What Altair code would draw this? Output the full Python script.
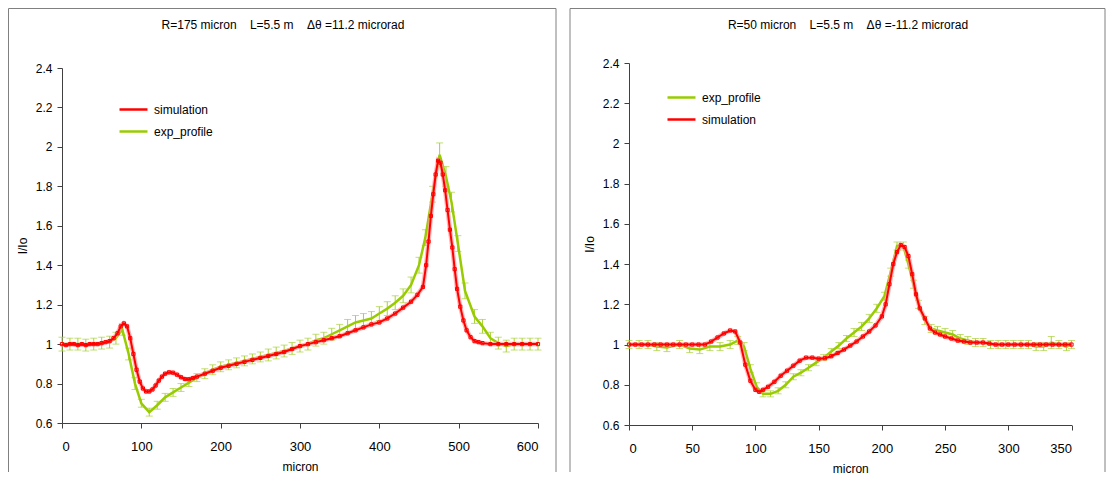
import altair as alt
import pandas as pd

# ---------------- data ----------------
Y_TICKS = [0.6, 0.8, 1.0, 1.2, 1.4, 1.6, 1.8, 2.0, 2.2, 2.4]

# Left panel: R=175 micron
L_TITLE = "R=175 micron\u00a0\u00a0\u00a0\u00a0L=5.5 m\u00a0\u00a0\u00a0\u00a0\u0394\u03b8 =11.2 microrad"
L_X_TICKS = [0, 100, 200, 300, 400, 500, 600]
L_EXP_X = [0, 10, 20, 30, 40, 50, 60, 68, 76, 84, 92, 100, 110, 120, 130, 140, 150, 160, 170, 180,
           190, 200, 210, 220, 230, 240, 250, 260, 270, 280, 290, 300, 310, 320, 330, 340, 350, 360,
           370, 380, 390, 400, 410, 420, 430, 440, 450, 458, 467, 476, 484, 491, 499, 508, 520, 530,
           540, 550, 560, 570, 580, 590, 600]
L_EXP_Y = [1.00, 1.00, 1.00, 0.995, 1.00, 1.005, 1.01, 1.03, 1.075, 0.95, 0.80, 0.70, 0.655, 0.69,
           0.73, 0.755, 0.78, 0.805, 0.83, 0.85, 0.87, 0.885, 0.895, 0.905, 0.915, 0.925, 0.935,
           0.945, 0.955, 0.965, 0.978, 0.99, 1.00, 1.02, 1.03, 1.05, 1.07, 1.09, 1.11, 1.12, 1.13,
           1.155, 1.18, 1.21, 1.245, 1.30, 1.40, 1.54, 1.76, 1.96, 1.85, 1.72, 1.51, 1.27, 1.14,
           1.09, 1.03, 1.005, 0.99, 1.00, 1.00, 1.00, 1.00]
L_EXP_ERR = [0.035, 0.03, 0.03, 0.03, 0.03, 0.03, 0.03, 0.03, 0.03, 0.03, 0.03, 0.02, 0.02, 0.02,
             0.02, 0.02, 0.02, 0.02, 0.02, 0.025, 0.025, 0.025, 0.025, 0.025, 0.025, 0.025, 0.025,
             0.03, 0.03, 0.03, 0.03, 0.03, 0.03, 0.03, 0.03, 0.03, 0.03, 0.035, 0.035, 0.035, 0.035,
             0.035, 0.035, 0.035, 0.035, 0.04, 0.04, 0.04, 0.04, 0.06, 0.05, 0.05, 0.04, 0.04,
             0.035, 0.035, 0.03, 0.03, 0.03, 0.03, 0.03, 0.03, 0.03]
L_SIM_X = [0, 5, 10, 15, 20, 25, 30, 35, 40, 45, 50, 55, 60, 65, 70, 74, 78, 82, 86, 90, 94, 98,
           102, 106, 110, 114, 118, 122, 126, 130, 135, 140, 145, 150, 155, 160, 165, 170, 180, 190,
           200, 210, 220, 230, 240, 250, 260, 270, 280, 290, 300, 310, 320, 330, 340, 350, 360, 370,
           380, 390, 400, 410, 420, 430, 440, 448, 455, 459, 462, 465, 468, 471, 474, 477, 480, 483,
           486, 489, 492, 495, 498, 502, 506, 510, 515, 520, 525, 530, 540, 550, 560, 570, 580, 590,
           600]
L_SIM_Y = [1.00, 0.995, 1.00, 1.00, 0.995, 1.00, 0.995, 1.00, 1.00, 1.00, 1.005, 1.01, 1.015, 1.03,
           1.055, 1.09, 1.105, 1.09, 1.03, 0.95, 0.87, 0.81, 0.775, 0.76, 0.76, 0.77, 0.79, 0.815,
           0.835, 0.85, 0.857, 0.855, 0.845, 0.832, 0.823, 0.822, 0.828, 0.835, 0.85, 0.865, 0.88,
           0.89, 0.90, 0.91, 0.92, 0.93, 0.94, 0.95, 0.96, 0.975, 0.99, 1.00, 1.01, 1.02, 1.03,
           1.04, 1.055, 1.07, 1.085, 1.10, 1.11, 1.13, 1.155, 1.185, 1.215, 1.25, 1.29, 1.40, 1.52,
           1.65, 1.76, 1.86, 1.93, 1.92, 1.86, 1.78, 1.68, 1.58, 1.49, 1.38, 1.28, 1.19, 1.12, 1.07,
           1.035, 1.015, 1.01, 1.005, 1.00, 1.00, 1.00, 1.00, 1.00, 1.00, 1.00]

# Right panel: R=50 micron
R_TITLE = "R=50 micron\u00a0\u00a0\u00a0\u00a0L=5.5 m\u00a0\u00a0\u00a0\u00a0\u0394\u03b8 =-11.2 microrad"
R_X_TICKS = [0, 50, 100, 150, 200, 250, 300, 350]
R_EXP_X = [0, 8, 15, 22, 30, 40, 48, 56, 64, 72, 80, 86, 91, 96, 101, 106, 112, 118, 124, 130, 136,
           142, 148, 154, 160, 166, 172, 178, 184, 190, 196, 202, 207, 212, 217, 221, 225, 229, 234,
           239, 244, 250, 256, 262, 268, 274, 280, 286, 292, 298, 304, 310, 316, 322, 328, 334, 340,
           346, 350]
R_EXP_Y = [1.00, 1.00, 1.00, 0.99, 0.985, 1.00, 0.98, 0.975, 0.99, 0.99, 1.00, 1.02, 0.99, 0.88,
           0.79, 0.755, 0.755, 0.77, 0.80, 0.84, 0.86, 0.885, 0.91, 0.935, 0.965, 0.995, 1.03, 1.06,
           1.09, 1.13, 1.18, 1.24, 1.36, 1.49, 1.49, 1.40, 1.30, 1.20, 1.12, 1.08, 1.07, 1.06, 1.05,
           1.03, 1.02, 1.01, 1.01, 1.00, 1.00, 1.00, 1.00, 1.00, 1.00, 0.99, 0.99, 1.01, 1.00, 0.99,
           1.00]
R_EXP_ERR = [0.02, 0.02, 0.02, 0.02, 0.02, 0.02, 0.02, 0.02, 0.02, 0.02, 0.02, 0.02, 0.02, 0.02,
             0.02, 0.015, 0.015, 0.015, 0.015, 0.015, 0.015, 0.015, 0.015, 0.015, 0.015, 0.015,
             0.015, 0.02, 0.02, 0.02, 0.02, 0.02, 0.02, 0.02, 0.02, 0.02, 0.02, 0.02, 0.02, 0.02,
             0.02, 0.02, 0.02, 0.02, 0.02, 0.02, 0.02, 0.02, 0.02, 0.02, 0.02, 0.02, 0.02, 0.02,
             0.02, 0.03, 0.02, 0.02, 0.02]
R_SIM_X = [0, 5, 10, 15, 20, 25, 30, 35, 40, 45, 50, 55, 60, 65, 70, 75, 80, 84, 88, 92, 96, 100,
           103, 106, 110, 115, 120, 125, 130, 135, 140, 145, 150, 155, 160, 165, 170, 175, 180, 185,
           190, 195, 200, 203, 206, 209, 212, 215, 218, 221, 224, 227, 230, 234, 238, 242, 246, 250,
           255, 260, 265, 270, 275, 280, 285, 290, 295, 300, 305, 310, 315, 320, 325, 330, 335, 340,
           345, 350]
R_SIM_Y = [1.00, 1.00, 1.00, 1.00, 1.00, 1.00, 1.00, 1.00, 1.00, 1.00, 1.00, 1.00, 1.00, 1.015,
           1.035, 1.055, 1.07, 1.065, 1.01, 0.90, 0.82, 0.775, 0.765, 0.775, 0.79, 0.815, 0.845,
           0.87, 0.895, 0.92, 0.935, 0.935, 0.93, 0.932, 0.942, 0.958, 0.975, 0.995, 1.015, 1.04,
           1.065, 1.095, 1.14, 1.20, 1.30, 1.40, 1.46, 1.495, 1.485, 1.44, 1.35, 1.25, 1.18, 1.13,
           1.08, 1.06, 1.05, 1.04, 1.03, 1.02, 1.015, 1.01, 1.01, 1.01, 1.005, 1.00, 1.00, 1.00,
           1.00, 1.00, 1.00, 1.00, 1.00, 1.00, 1.00, 1.00, 1.00, 1.00]

# ---------------- styling ----------------
GREEN = "#99CC00"
GREEN_BAR = "#A8D13A"
RED = "#FF0000"
PINK = "#FF9A9A"
FONT = "Liberation Sans"
AXIS_COLOR = "#404040"
BORDER = "#808080"
COLORS = {"simulation": RED, "exp_profile": GREEN}


def panel(exp_x, exp_y, exp_err, sim_x, sim_y, x_ticks, x_range, y_range,
          x_offset, y_offset, order, lx, ly):
    exp = pd.DataFrame({"x": exp_x, "y": exp_y, "err": exp_err})
    exp["lo"] = exp["y"] - exp["err"]
    exp["hi"] = exp["y"] + exp["err"]
    exp["series"] = "exp_profile"
    sim = pd.DataFrame({"x": sim_x, "y": sim_y})
    sim["series"] = "simulation"

    xs = alt.Scale(domain=[x_ticks[0], x_ticks[-1]], range=x_range, nice=False, zero=False)
    ys = alt.Scale(domain=[0.6, 2.4], range=y_range, nice=False, zero=False)
    xax = alt.Axis(orient="bottom", values=x_ticks, offset=x_offset, grid=False, title="micron",
                   labelFont=FONT, labelFontSize=13, titleFont=FONT, titleFontSize=12,
                   titleFontWeight="normal", labelPadding=12, titlePadding=8,
                   domainColor=AXIS_COLOR, tickColor=AXIS_COLOR, tickSize=5, labelColor="#000000",
                   titleColor="#000000")
    yax = alt.Axis(orient="left", values=Y_TICKS, offset=y_offset, grid=False, title="I/Io",
                   format="~g", labelFont=FONT, labelFontSize=12, titleFont=FONT, titleFontSize=12,
                   titleFontWeight="normal", labelPadding=5, titlePadding=6,
                   domainColor=AXIS_COLOR, tickColor=AXIS_COLOR, tickSize=5, labelColor="#000000",
                   titleColor="#000000")
    X = alt.X("x:Q", scale=xs, axis=xax)
    Y = alt.Y("y:Q", scale=ys, axis=yax)
    color = alt.Color(
        "series:N",
        title=None,
        scale=alt.Scale(domain=order, range=[COLORS[s] for s in order]),
        legend=alt.Legend(orient="none", legendX=lx, legendY=ly, symbolType="stroke",
                          symbolSize=784, symbolStrokeWidth=2.5, labelFont=FONT,
                          labelFontSize=12, labelOffset=5, rowPadding=0, padding=0,
                          labelColor="#000000"),
    )

    bars = alt.Chart(exp).mark_rule(color=GREEN_BAR, strokeWidth=1).encode(
        x=X, y=alt.Y("lo:Q", scale=ys, axis=yax), y2="hi:Q")
    cap_lo = alt.Chart(exp).mark_tick(orient="horizontal", color=GREEN_BAR, size=7,
                                      thickness=1).encode(x=X, y=alt.Y("lo:Q", scale=ys, axis=yax))
    cap_hi = alt.Chart(exp).mark_tick(orient="horizontal", color=GREEN_BAR, size=7,
                                      thickness=1).encode(x=X, y=alt.Y("hi:Q", scale=ys, axis=yax))
    exp_line = alt.Chart(exp).mark_line(strokeWidth=2.5).encode(x=X, y=Y, color=color)
    sim_halo = alt.Chart(sim).mark_line(strokeWidth=4.5, color=PINK, opacity=0.7).encode(x=X, y=Y)
    sim_line = alt.Chart(sim).mark_line(
        strokeWidth=2,
        point=alt.OverlayMarkDef(shape="square", filled=False, size=10, strokeWidth=1),
    ).encode(x=X, y=Y, color=color)
    return alt.layer(bars, cap_lo, cap_hi, exp_line, sim_halo, sim_line)


left = panel(L_EXP_X, L_EXP_Y, L_EXP_ERR, L_SIM_X, L_SIM_Y, L_X_TICKS,
             [0, 476], [360, 5], -2, 0, ["simulation", "exp_profile"], 56, 31)
right = panel(R_EXP_X, R_EXP_Y, R_EXP_ERR, R_SIM_X, R_SIM_Y, R_X_TICKS,
              [567, 1009.5], [362, 0], 0, -567, ["exp_profile", "simulation"], 604, 19)

one = pd.DataFrame({"k": [0]})


def text(s, x, y):
    return alt.Chart(one).mark_text(text=s, font=FONT, fontSize=12, align="center",
                                    baseline="middle", color="#000000").encode(
        x=alt.value(x), y=alt.value(y))


def hline(x1, x2, y):
    return alt.Chart(one).mark_rule(color=BORDER, strokeWidth=1).encode(
        x=alt.value(x1), x2=alt.value(x2), y=alt.value(y))


def vline(x, y1, y2):
    return alt.Chart(one).mark_rule(color=BORDER, strokeWidth=1).encode(
        x=alt.value(x), y=alt.value(y1), y2=alt.value(y2))


decor = [
    text(L_TITLE, 221, -38),
    text(R_TITLE, 786, -38),
    hline(-53.5, 494, -54.5), vline(-53.5, -54.5, 409), vline(494, -54.5, 409),
    hline(508, 1043, -54.5), vline(508, -54.5, 409), vline(1043, -54.5, 409),
]

chart = alt.layer(left, right, *decor).resolve_scale(
    x="independent", y="independent", color="independent"
).properties(width=1000, height=362, padding=0).configure_view(
    stroke="transparent", strokeWidth=0
)

chart.save("out.html", embed_options={"renderer": "svg", "actions": False})
